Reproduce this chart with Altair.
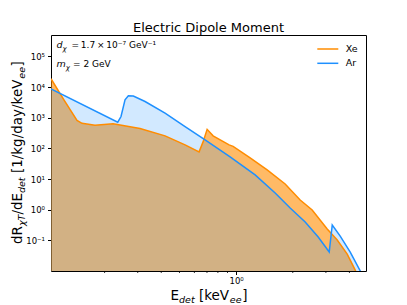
import altair as alt
import pandas as pd

FONT = "DejaVu Sans"

# ---- data ----
xe_E = [0.1038, 0.1216, 0.1427, 0.1517, 0.1778, 0.2218, 0.3085, 0.4191, 0.5354, 0.6355,
        0.6674, 0.7013, 0.7546, 0.9178, 0.9639, 1.187, 1.462, 1.822, 2.190, 2.536,
        3.048, 3.446, 3.894, 4.295, 4.57]
xe_R = [18700, 3850, 822, 656, 565, 632, 444, 256, 130, 76.9,
        163, 418, 256, 130, 116, 49, 19.8, 6.92, 2.07, 0.977,
        0.234, 0.102, 0.0356, 0.0107, 0.0043]

ar_E = [0.1038, 0.2349, 0.2445, 0.2568, 0.2675, 0.2843, 0.3281, 0.4191, 0.5354, 0.684,
        0.929, 1.262, 1.612, 1.937, 2.328, 2.730, 3.124, 3.242, 3.574, 4.04, 4.57, 4.80]
ar_R = [8790, 718, 1094, 3846, 5200, 5080, 3380, 1413, 515, 190,
        52.7, 13.6, 3.52, 1.14, 0.396, 0.128, 0.0415, 0.316, 0.138, 0.0415, 0.010, 0.0043]

x_domain = [0.1038, 4.9]
y_domain = [0.01, 5e5]
y_major = [0.1, 1, 10, 100, 1000, 1e4, 1e5]
x_major = [1]
x_minor = [0.2, 0.3, 0.4, 0.5, 0.6, 0.7, 0.8, 0.9, 2, 3, 4]

ORANGE = "#ff8c00"
BLUE = "#1e90ff"
W, H = 315, 236

xe = pd.DataFrame({"E": xe_E, "R": xe_R})
ar = pd.DataFrame({"E": ar_E, "R": ar_R})

ylab = ("round(log(datum.value)/LN10) == -1 ? '10⁻¹' : round(log(datum.value)/LN10) == 0 ? '10⁰' : "
        "round(log(datum.value)/LN10) == 1 ? '10¹' : round(log(datum.value)/LN10) == 2 ? '10²' : "
        "round(log(datum.value)/LN10) == 3 ? '10³' : round(log(datum.value)/LN10) == 4 ? '10⁴' : '10⁵'")

xs = alt.Scale(type="log", domain=x_domain, nice=False)
ys = alt.Scale(type="log", domain=y_domain, nice=False)

xax = alt.Axis(values=x_major, labelExpr="'10⁰'", title=None, grid=False, domain=False,
               tickSize=3.5, tickColor="black", labelColor="black", labelFont=FONT,
               labelFontSize=8.5, labelPadding=1.5)
yax = alt.Axis(values=y_major, labelExpr=ylab, title=None, grid=False, domain=False,
               tickSize=3.5, tickColor="black", labelColor="black", labelFont=FONT,
               labelFontSize=8.5, labelPadding=3)

X = alt.X("E:Q", scale=xs, axis=xax)
Y = alt.Y("R:Q", scale=ys, axis=yax)

xe_area = alt.Chart(xe).mark_area(color=ORANGE, opacity=0.6, clip=True).encode(
    x=X, y=Y, y2=alt.datum(0.01))
ar_area = alt.Chart(ar).mark_area(color=BLUE, opacity=0.2, clip=True).encode(
    x=X, y=Y, y2=alt.datum(0.01))
xe_line = alt.Chart(xe).mark_line(color=ORANGE, strokeWidth=1.5, clip=True).encode(x=X, y=Y)
ar_line = alt.Chart(ar).mark_line(color=BLUE, strokeWidth=1.5, clip=True).encode(x=X, y=Y)

minor = alt.Chart(pd.DataFrame({"E": x_minor})).mark_rule(color="black", strokeWidth=0.8).encode(
    x=alt.X("E:Q", scale=xs), y=alt.value(H), y2=alt.value(H + 2))


def txt(s, x, y, size=13.5, italic=False, angle=0, align="left", baseline="alphabetic"):
    kw = dict(text=s, fontSize=size, font=FONT, color="black", align=align, baseline=baseline)
    if italic:
        kw["fontStyle"] = "italic"
    if angle:
        kw["angle"] = angle
    return alt.Chart(pd.DataFrame({"k": [0]})).mark_text(**kw).encode(
        x=alt.value(x), y=alt.value(y))


TY = 264.5  # x-title baseline (relative to plot top)
texts = [
    txt("Electric Dipole Moment", 157.5, -3.5, 13, align="center"),
    # x title
    txt("E", 119.5, TY),
    txt("det", 128.0, TY + 3, 9.5, italic=True),
    txt("[keV", 147.9, TY),
    txt("ee", 178.8, TY + 3, 9.5, italic=True),
    txt("]", 191.3, TY),
    # y title (rotated)
    txt("dR", -29.5, 209, angle=270),
    txt("χT", -26.5, 191, 9.5, italic=True, angle=270),
    txt("/dE", -29.5, 179.6, angle=270),
    txt("det", -26.5, 158, 9.5, italic=True, angle=270),
    txt("[1/kg/day/keV", -29.5, 138.1, angle=270),
    txt("ee", -26.5, 43.7, 9.5, italic=True, angle=270),
    txt("]", -29.5, 31.5, angle=270),
    # annotations
    txt("d", 5.5, 13, 9.5, italic=True),
    txt("χ", 11.5, 16, 7, italic=True),
    txt("=\u20091.7\u2009×\u200910⁻⁷ GeV⁻¹", 20.5, 13, 9),
    txt("m", 5.5, 31.5, 9.5, italic=True),
    txt("χ", 14.8, 34.5, 7, italic=True),
    txt("= 2 GeV", 22, 31.5, 9),
    # legend labels
    txt("Xe", 294.7, 14, 9.5, baseline="middle"),
    txt("Ar", 294.7, 28.3, 9.5, baseline="middle"),
]

leg = pd.DataFrame({"k": [0]})
leg_xe = alt.Chart(leg).mark_rule(color=ORANGE, strokeWidth=1.5).encode(
    x=alt.value(266.3), x2=alt.value(287.3), y=alt.value(14))
leg_ar = alt.Chart(leg).mark_rule(color=BLUE, strokeWidth=1.5).encode(
    x=alt.value(266.3), x2=alt.value(287.3), y=alt.value(28.3))

chart = alt.layer(xe_area, ar_area, xe_line, ar_line, minor, leg_xe, leg_ar, *texts).properties(
    width=W, height=H,
    autosize=alt.AutoSizeParams(type="none"),
    padding={"left": 43, "top": 27, "right": 33, "bottom": 34},
    background="white",
).configure_view(stroke="black", strokeWidth=1)

chart.save("out.html", embed_options={"renderer": "svg", "actions": False})
